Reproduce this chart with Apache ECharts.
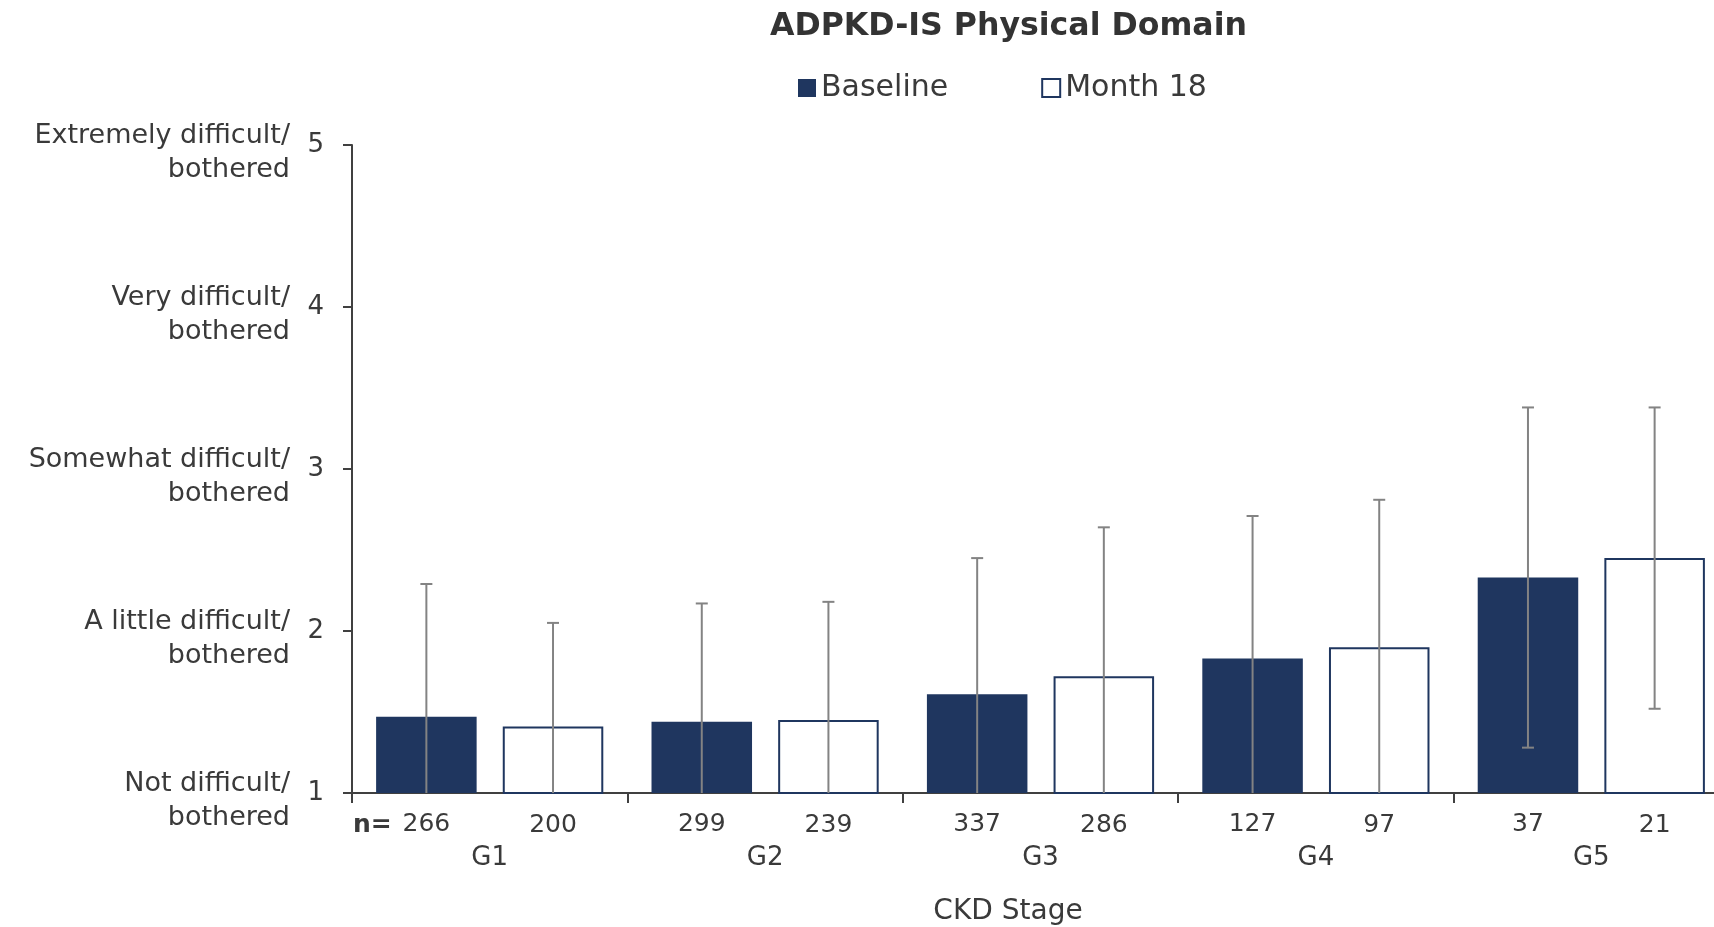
<!DOCTYPE html>
<html>
<head>
<meta charset="utf-8">
<script src="https://cdn.jsdelivr.net/npm/echarts@6/dist/echarts.min.js"></script>
<style>
html,body{margin:0;padding:0;background:#fff;overflow:hidden;width:1714px;height:927px;}
#chart{width:1745px;height:927px;}
</style>
</head>
<body>
<div id="chart"></div>
<script>
// ---- data ----
const categories = ['G1', 'G2', 'G3', 'G4', 'G5'];
const baselineMean = [1.47, 1.44, 1.61, 1.83, 2.33];
const baselineSD = [0.82, 0.73, 0.84, 0.88, 1.05];
const month18Mean = [1.41, 1.45, 1.72, 1.90, 2.45];
const month18SD = [0.64, 0.73, 0.92, 0.91, 0.93];
const baselineN = [266, 299, 337, 127, 37];
const month18N = [200, 239, 286, 97, 21];
const yTicks = [1, 2, 3, 4, 5];
const yTickLabels = [
  'Not difficult/\nbothered',
  'A little difficult/\nbothered',
  'Somewhat difficult/\nbothered',
  'Very difficult/\nbothered',
  'Extremely difficult/\nbothered'
];

const FONT = '"DejaVu Sans", sans-serif';
const TXT = '#3a3a3a';
const NAVY = '#1F365F';
const ERR = '#838383';
const BAR_W = 0.365, BAR_GAP = 0.26;
const OFFSET = (BAR_W + BAR_W * BAR_GAP) / 2;
const YMIN = 1;

function errRender(sign) {
  return function (params, api) {
    const i = api.value(0), m = api.value(1), sd = api.value(2);
    const band = api.size([1, 0])[0];
    const off = sign * band * OFFSET;
    const lowRaw = m - sd;
    const lo = Math.max(YMIN, lowRaw), hi = m + sd;
    const pHi = api.coord([i, hi]);
    const pLo = api.coord([i, lo]);
    const x = pHi[0] + off;
    const cap = 6;
    const st = { stroke: ERR, lineWidth: 2 };
    const children = [
      { type: 'line', shape: { x1: x, y1: pHi[1], x2: x, y2: pLo[1] }, style: st },
      { type: 'line', shape: { x1: x - cap, y1: pHi[1], x2: x + cap, y2: pHi[1] }, style: st }
    ];
    if (lowRaw >= YMIN) {
      children.push({ type: 'line', shape: { x1: x - cap, y1: pLo[1], x2: x + cap, y2: pLo[1] }, style: st });
    }
    return { type: 'group', children: children };
  };
}

const chart = echarts.init(document.getElementById('chart'), null, { renderer: 'canvas' });
chart.setOption({
  animation: false,
  backgroundColor: '#fff',
  textStyle: { fontFamily: FONT },
  title: {
    text: 'ADPKD-IS Physical Domain',
    left: 765, top: 6,
    textStyle: { fontFamily: FONT, fontSize: 31.6, fontWeight: 'bold', color: '#333' }
  },
  legend: {
    data: ['Baseline', 'Month 18'],
    left: 793, top: 68,
    icon: 'rect',
    itemWidth: 18, itemHeight: 18,
    itemGap: 93,
    textStyle: { fontFamily: FONT, fontSize: 30, color: TXT },
    selectedMode: false
  },
  grid: { left: 352, top: 145, width: 1377, height: 648 },
  xAxis: {
    type: 'category',
    data: categories,
    axisLine: { show: true, lineStyle: { color: '#404040', width: 2 } },
    axisTick: { show: true, length: 10, lineStyle: { color: '#404040', width: 2 } },
    axisLabel: { margin: 52, fontFamily: FONT, fontSize: 26, color: TXT }
  },
  yAxis: [
    {
      type: 'value', min: 1, max: 5, interval: 1,
      axisLine: { show: true, lineStyle: { color: '#404040', width: 2 } },
      axisTick: { show: true, length: 9, lineStyle: { color: '#404040', width: 2 } },
      splitLine: { show: false },
      axisLabel: { margin: 28, fontFamily: FONT, fontSize: 26, color: TXT }
    },
    {
      type: 'value', min: 1, max: 5, interval: 1, position: 'left',
      axisLine: { show: false }, axisTick: { show: false }, splitLine: { show: false },
      axisLabel: {
        margin: 62, color: TXT,
        formatter: function (v) {
          const s = yTickLabels[yTicks.indexOf(v)];
          if (!s) return '';
          return '{s| }\n' + s.split('\n').map(l => '{t|' + l + '}').join('\n');
        },
        rich: {
          s: { fontSize: 2, lineHeight: 15, fontFamily: FONT },
          t: { fontSize: 27, lineHeight: 34, fontFamily: FONT, color: TXT, align: 'right' }
        }
      }
    }
  ],
  graphic: [
    { type: 'text', x: 353, y: 825, style: { text: 'n=', font: 'bold 25px ' + FONT, fill: TXT, textAlign: 'left', textVerticalAlign: 'middle' } },
    { type: 'text', x: 1008, y: 912, style: { text: 'CKD Stage', font: '28px ' + FONT, fill: TXT, textAlign: 'center', textVerticalAlign: 'middle' } }
  ],
  series: [
    {
      name: 'Baseline', type: 'bar', data: baselineMean,
      barWidth: (BAR_W * 100) + '%', barGap: (BAR_GAP * 100) + '%',
      itemStyle: { color: NAVY, borderColor: NAVY, borderWidth: 0 },
      label: {
        show: true, position: 'bottom', distance: 19,
        fontFamily: FONT, fontSize: 25, color: TXT,
        formatter: function (p) { return String(baselineN[p.dataIndex]); }
      },
      z: 2
    },
    {
      name: 'Month 18', type: 'bar', data: month18Mean,
      barWidth: (BAR_W * 100) + '%', barGap: (BAR_GAP * 100) + '%',
      itemStyle: { color: '#fff', borderColor: NAVY, borderWidth: 2 },
      label: {
        show: true, position: 'bottom', distance: 19,
        fontFamily: FONT, fontSize: 25, color: TXT,
        formatter: function (p) { return String(month18N[p.dataIndex]); }
      },
      z: 2
    },
    {
      name: 'errBaseline', type: 'custom',
      renderItem: errRender(-1),
      encode: { x: 0, y: 1 },
      data: categories.map((c, i) => [i, baselineMean[i], baselineSD[i]]),
      z: 5, silent: true
    },
    {
      name: 'errMonth18', type: 'custom',
      renderItem: errRender(1),
      encode: { x: 0, y: 1 },
      data: categories.map((c, i) => [i, month18Mean[i], month18SD[i]]),
      z: 5, silent: true
    }
  ]
});
</script>
</body>
</html>
